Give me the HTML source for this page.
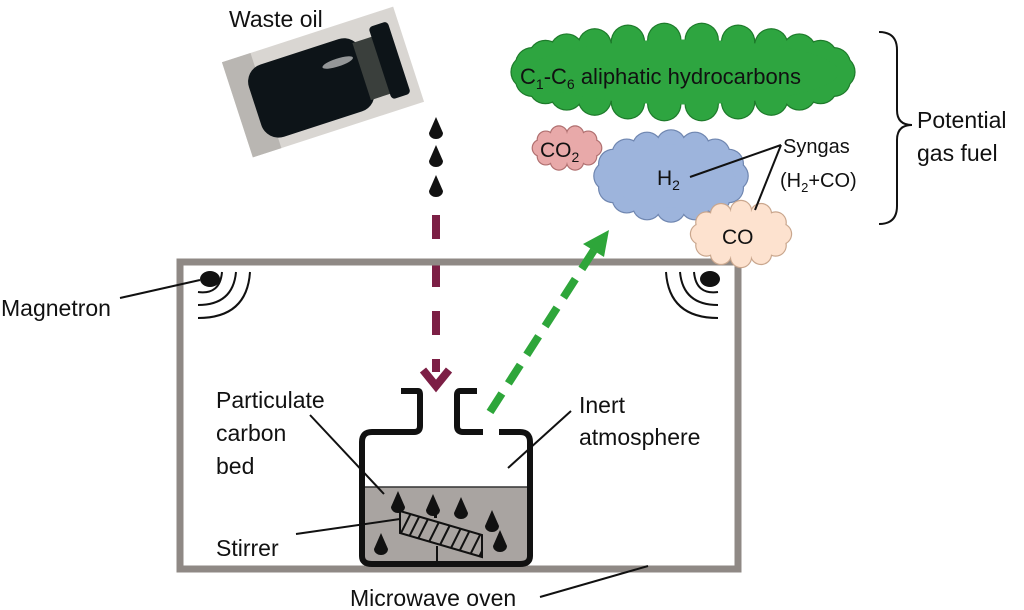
<!DOCTYPE html>
<html><head><meta charset="utf-8"><style>
body{margin:0;background:#fff}
svg{display:block}
text{font-family:"Liberation Sans",sans-serif;fill:#111}
</style></head><body>
<svg id="s" width="1024" height="610" viewBox="0 0 1024 610" xmlns="http://www.w3.org/2000/svg">
<defs>
<g id="drop"><path d="M0,-11 L-7,5 A7,6 0 0 0 7,5 Z" fill="#111"/></g>
<clipPath id="stc"><polygon points="400,511 482,535 482,557 400,533"/></clipPath>
</defs>
<text x="229" y="27" font-size="23">Waste oil</text>
<g transform="translate(323,82) rotate(-18)">
<rect x="-90" y="-50" width="180" height="100" fill="#d9d6d2"/>
<rect x="-90" y="-50" width="30" height="100" fill="#b9b6b2"/>
<rect x="-72" y="-36" width="118" height="76" rx="18" fill="#0d1418"/>
<rect x="40" y="-28" width="24" height="60" fill="#3a3f3c"/>
<rect x="60" y="-38" width="20" height="76" rx="4" fill="#0d1418"/>
<ellipse cx="20" cy="-14" rx="16" ry="4" fill="#eee" opacity=".6"/>
</g>
<use href="#drop" x="436" y="128"/><use href="#drop" x="436" y="156"/><use href="#drop" x="436" y="186"/>
<line x1="436" y1="215" x2="436" y2="372" stroke="#7c1f45" stroke-width="8" stroke-dasharray="24,24"/>
<path d="M423,370 L436,386 L449,370" fill="none" stroke="#7c1f45" stroke-width="8"/>
<rect x="180" y="262" width="558" height="307" fill="none" stroke="#8f8985" stroke-width="7"/>
<ellipse cx="210" cy="279" rx="10" ry="8" fill="#111"/>
<g fill="none" stroke="#111" stroke-width="2">
<path d="M198,292 Q220,295 222,272"/><path d="M198,305 Q233,305 236,272"/><path d="M198,318 Q247,318 250,272"/>
</g>
<ellipse cx="710" cy="279" rx="10" ry="8" fill="#111"/>
<g fill="none" stroke="#111" stroke-width="2">
<path d="M718,292 Q696,295 694,272"/><path d="M718,305 Q683,305 680,272"/><path d="M718,318 Q669,318 666,272"/>
</g>
<line x1="120" y1="298" x2="200" y2="280" stroke="#111" stroke-width="2"/>
<text x="1" y="316" font-size="23">Magnetron</text>
<rect x="362" y="487" width="168" height="75" fill="#a9a4a1"/>
<g clip-path="url(#stc)" stroke="#111" stroke-width="2">
<line x1="395" y1="545" x2="415" y2="505"/><line x1="405" y1="545" x2="425" y2="505"/><line x1="415" y1="545" x2="435" y2="505"/><line x1="425" y1="550" x2="445" y2="510"/><line x1="435" y1="555" x2="455" y2="515"/><line x1="445" y1="560" x2="465" y2="520"/><line x1="455" y1="560" x2="475" y2="520"/><line x1="465" y1="565" x2="485" y2="525"/><line x1="475" y1="565" x2="495" y2="525"/>
</g>
<polygon points="400,511 482,535 482,557 400,533" fill="none" stroke="#111" stroke-width="2"/>
<line x1="437" y1="546" x2="437" y2="561" stroke="#111" stroke-width="2"/>
<rect x="434" y="515" width="3" height="3" fill="#111"/>
<line x1="362" y1="487" x2="530" y2="487" stroke="#333" stroke-width="1.5"/>
<path d="M401,391 L418,391 Q420,391 420,395 L420,426 Q420,432 414,432 L372,432 Q362,432 362,442 L362,556 Q362,564 372,564 L520,564 Q530,564 530,556 L530,442 Q530,432 520,432 L499,432" fill="none" stroke="#111" stroke-width="6"/>
<path d="M477,391 L460,391 Q457,391 457,395 L457,426 Q457,432 463,432 L483,432" fill="none" stroke="#111" stroke-width="6"/>
<use href="#drop" x="398" y="502"/><use href="#drop" x="433" y="505"/><use href="#drop" x="461" y="508"/><use href="#drop" x="492" y="521"/><use href="#drop" x="381" y="544"/><use href="#drop" x="500" y="541"/>
<text x="216" y="408" font-size="23">Particulate</text>
<text x="216" y="441" font-size="23">carbon</text>
<text x="216" y="474" font-size="23">bed</text>
<line x1="310" y1="415" x2="384" y2="494" stroke="#111" stroke-width="2"/>
<text x="216" y="556" font-size="23">Stirrer</text>
<line x1="296" y1="534" x2="400" y2="519" stroke="#111" stroke-width="2"/>
<text x="579" y="413" font-size="23">Inert</text>
<text x="579" y="445" font-size="23">atmosphere</text>
<line x1="508" y1="468" x2="571" y2="411" stroke="#111" stroke-width="2"/>
<text x="350" y="606" font-size="23">Microwave oven</text>
<line x1="540" y1="597" x2="648" y2="566" stroke="#111" stroke-width="2"/>
<line x1="490" y1="412" x2="594" y2="250" stroke="#2ea63a" stroke-width="8" stroke-dasharray="22,12"/>
<polygon points="609,230 583,244 604,257" fill="#2ea63a"/>
<g id="clouds"></g>
<text x="520" y="84" font-size="22">C<tspan font-size="14" dy="5">1</tspan><tspan dy="-5">-C</tspan><tspan font-size="14" dy="5">6</tspan><tspan dy="-5"> aliphatic hydrocarbons</tspan></text>
<text x="540" y="157" font-size="21">CO<tspan font-size="14" dy="5">2</tspan></text>
<text x="657" y="185" font-size="21">H<tspan font-size="14" dy="5">2</tspan></text>
<text x="722" y="244" font-size="21">CO</text>
<g stroke="#111" stroke-width="2"><line x1="690" y1="177" x2="781" y2="145"/><line x1="755" y1="210" x2="781" y2="145"/></g>
<text x="783" y="153" font-size="20">Syngas</text>
<text x="780" y="187" font-size="20">(H<tspan font-size="13" dy="5">2</tspan><tspan dy="-5">+CO)</tspan></text>
<path d="M879,32 Q897,32 897,50 L897,110 Q897,125 912,125 Q897,125 897,140 L897,206 Q897,224 879,224" fill="none" stroke="#111" stroke-width="2"/>
<text x="917" y="128" font-size="23">Potential</text>
<text x="917" y="161" font-size="23">gas fuel</text>
</svg>
<script>
(function(){
var g=document.getElementById('clouds'),NS='http://www.w3.org/2000/svg';
function cloud(cx,cy,rx,ry,n,r,fill,stroke){
 var grp=document.createElementNS(NS,'g');
 var pts=[];
 for(var i=0;i<n;i++){var a=2*Math.PI*i/n;pts.push([cx+(rx-r*0.6)*Math.cos(a),cy+(ry-r*0.6)*Math.sin(a)]);}
 [[stroke,1.2],[fill,0]].forEach(function(p,k){
  pts.forEach(function(q){var c=document.createElementNS(NS,'circle');c.setAttribute('cx',q[0]);c.setAttribute('cy',q[1]);c.setAttribute('r',r+(k?0:1.2));c.setAttribute('fill',p[0]);grp.appendChild(c);});
  var e=document.createElementNS(NS,'ellipse');e.setAttribute('cx',cx);e.setAttribute('cy',cy);e.setAttribute('rx',rx-r*0.6);e.setAttribute('ry',ry-r*0.6);e.setAttribute('fill',p[0]);grp.appendChild(e);
 });
 g.appendChild(grp);
}
cloud(683,72,165,42,26,16,'#2ea540','#1d7a2a');
cloud(567,148,31,19,10,8,'#e8a9a9','#b07070');
cloud(671,176,71,40,16,14,'#9db4dc','#6f86b0');
cloud(741,234,46,29,12,10,'#fde2cf','#c9a68d');
})();
</script>
</body></html>
